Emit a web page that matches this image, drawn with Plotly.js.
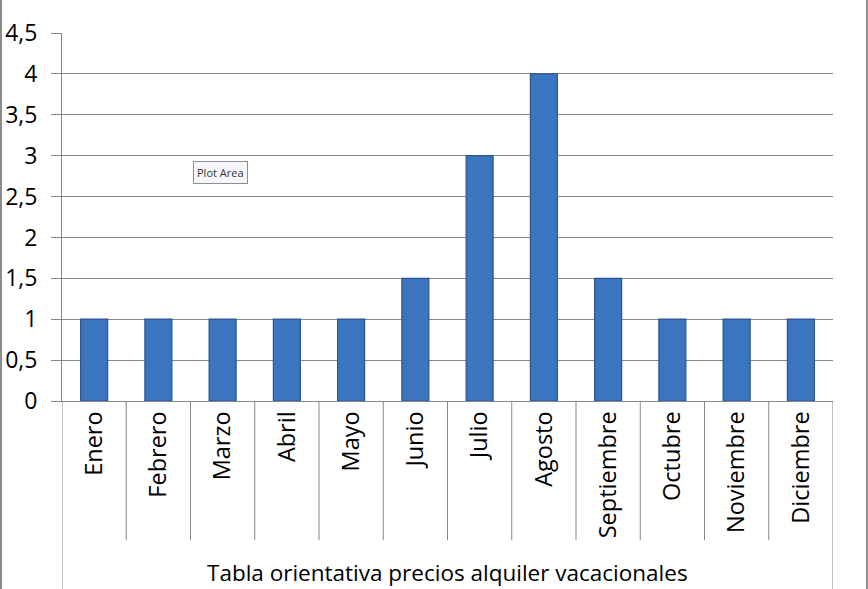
<!DOCTYPE html>
<html>
<head>
<meta charset="utf-8">
<script src="https://cdn.plot.ly/plotly-3.0.1.min.js"></script>
<style>
  html, body { margin: 0; padding: 0; background: #fff; }
  #wrap { position: relative; width: 868px; height: 589px; }
  #chart { width: 868px; height: 589px; }
  #frame { position: absolute; left: 0; top: 0; width: 864px; height: 589px;
           border-left: 2px solid #8c8c8c; border-right: 2px solid #8c8c8c; pointer-events: none; }
</style>
</head>
<body>
<div id="wrap">
  <div id="chart"></div>
  <div id="frame"></div>
</div>
<script>
const months = ["Enero", "Febrero", "Marzo", "Abril", "Mayo", "Junio", "Julio",
                "Agosto", "Septiembre", "Octubre", "Noviembre", "Diciembre"];
const prices = [1, 1, 1, 1, 1, 1.5, 3, 4, 1.5, 1, 1, 1];
const axisTitle = "Tabla orientativa precios alquiler vacacionales";
const tooltipLabel = "Plot Area";

const font = "'Open Sans', 'DejaVu Sans', sans-serif";
const lineCol = "#878787";

const shapes = [];
for (let i = 1; i < months.length; i++) {
  shapes.push({ type: "line", xref: "x", yref: "paper", x0: i - 0.5, x1: i - 0.5,
                y0: 0, y1: -0.378, line: { color: lineCol, width: 1 } });
}
shapes.push({ type: "line", xref: "x", yref: "paper", x0: -0.5, x1: -0.5,
              y0: 0, y1: -0.52, line: { color: lineCol, width: 1 } });
shapes.push({ type: "line", xref: "x", yref: "paper", x0: months.length - 0.5, x1: months.length - 0.5,
              y0: 0, y1: -0.52, line: { color: lineCol, width: 1 } });

const trace = {
  type: "bar",
  x: months,
  y: prices,
  width: 0.42,
  marker: { color: "#3b74bf", line: { color: "#2a568f", width: 1.2 } },
  hoverinfo: "x+y"
};

const layout = {
  width: 868, height: 589,
  margin: { l: 62, r: 35, t: 33, b: 188 },
  paper_bgcolor: "#ffffff",
  plot_bgcolor: "#ffffff",
  separators: ",.",
  showlegend: false,
  font: { family: font, color: "#000000", size: 20 },
  xaxis: {
    type: "category",
    range: [-0.5, months.length - 0.5],
    tickangle: -90,
    tickfont: { family: font, size: 23.5, color: "#000" },
    ticks: "", ticklen: 0,
    showgrid: false, zeroline: false,
    showline: true, linecolor: lineCol, linewidth: 1,
    automargin: false
  },
  yaxis: {
    range: [0, 4.5],
    dtick: 0.5, tick0: 0,
    tickfont: { family: font, size: 23, color: "#000" },
    ticks: "outside", ticklen: 10, tickcolor: lineCol,
    ticklabelstandoff: 9,
    showgrid: true, gridcolor: lineCol, gridwidth: 1,
    zeroline: false,
    showline: true, linecolor: lineCol, linewidth: 1,
    automargin: false
  },
  shapes: shapes,
  annotations: [
    { text: axisTitle, xref: "paper", yref: "paper", x: 0.5, y: -0.467,
      xanchor: "center", yanchor: "middle", showarrow: false,
      font: { family: font, size: 22.5, color: "#000" } },
    { text: tooltipLabel, xref: "paper", yref: "paper", x: 0.206, y: 0.622,
      xanchor: "center", yanchor: "middle", showarrow: false,
      bgcolor: "#f7f7f9", bordercolor: "#8a8f99", borderwidth: 1, borderpad: 3,
      font: { family: "'Open Sans', sans-serif", size: 11, color: "#333" } }
  ]
};

Plotly.newPlot("chart", [trace], layout, { displayModeBar: false, staticPlot: true });
</script>
</body>
</html>
